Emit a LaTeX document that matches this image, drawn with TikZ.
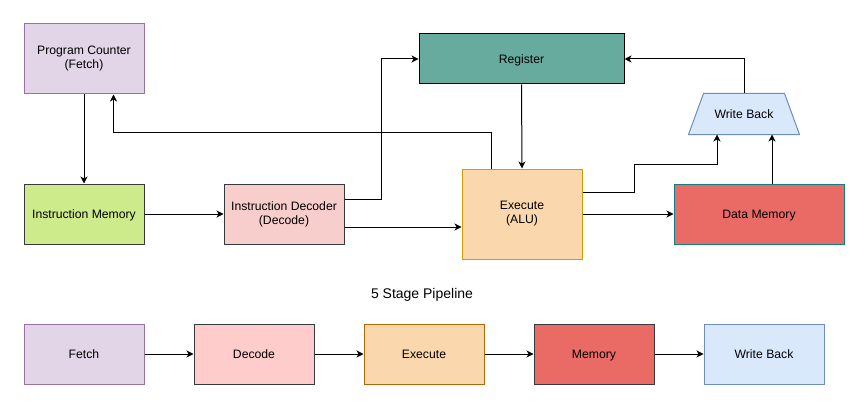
\documentclass[tikz,border=0pt]{standalone}
\usepackage{fontspec}
\setmainfont{Liberation Sans}
\usetikzlibrary{arrows.meta,calc,backgrounds}
\definecolor{pcfill}{HTML}{E1D5E7}\definecolor{pcline}{HTML}{9673A6}
\definecolor{imfill}{HTML}{CDEB8B}\definecolor{dkline}{HTML}{36393D}
\definecolor{idfill}{HTML}{F8CECC}\definecolor{decfill}{HTML}{FFCCCC}
\definecolor{regfill}{HTML}{67AB9F}
\definecolor{exfill}{HTML}{FAD7AC}\definecolor{exline}{HTML}{D79B00}\definecolor{exline2}{HTML}{B46504}
\definecolor{dmfill}{HTML}{EA6B66}\definecolor{dmline}{HTML}{0E8088}
\definecolor{wbfill}{HTML}{DAE8FC}\definecolor{wbline}{HTML}{6C8EBF}
\tikzset{
  box/.style={draw, line width=1pt, align=center, inner sep=0pt,
    font=\fontsize{12.2}{14}\selectfont},
  oneline/.style={text height=8.7pt, text depth=0pt},
  conn/.style={line width=1pt, -{Stealth[length=7pt,width=7pt,inset=2pt]}},
}
\begin{document}
\begin{tikzpicture}[x=1pt,y=-1pt]
\useasboundingbox (0,0) rectangle (861,401);
% top diagram
\node[box, fill=pcfill, draw=pcline, minimum width=120, minimum height=70] (pc) at (84,59) {Program Counter\\(Fetch)};
\node[box, oneline, fill=imfill, draw=dkline, minimum width=120, minimum height=60] (im) at (84,214) {Instruction Memory};
\node[box, fill=idfill, draw=dkline, minimum width=120, minimum height=60] (id) at (284,214) {Instruction Decoder\\(Decode)};
\node[box, oneline, fill=regfill, draw=black, minimum width=205, minimum height=50] (reg) at (521.5,59) {Register};
\node[box, fill=exfill, draw=exline, minimum width=120, minimum height=90] (ex) at (522,214) {Execute\\ (ALU)};
\node[box, oneline, fill=dmfill, draw=dmline, minimum width=170, minimum height=60] (dm) at (759,214) {Data Memory};
\node[box, oneline, draw=none, minimum width=110, minimum height=40] (wb) at (744,114) {Write Back};
\begin{pgfonlayer}{background}
\draw[line width=1pt, draw=wbline, fill=wbfill] (wb.south west) -- ($(wb.north west)+(15,0)$) -- ($(wb.north east)+(-15,0)$) -- (wb.south east) -- cycle;
\end{pgfonlayer}
% connectors
\draw[conn] (pc.south) -- (im.north);
\draw[conn] (im.east) -- (id.west);
\draw[conn] ($(id.east)+(0,-15)$) -| ($(reg.west)+(-37,0)$) -- (reg.west);
\draw[conn] ($(id.east)+(0,13)$) -- ($(ex.west)+(0,13)$);
\draw[conn] ($(ex.north west)+(30,0)$) |- ($(pc.south west)+(90,38)$) -- ($(pc.south west)+(90,0)$);
\draw[conn] (reg.south) -- (ex.north);
\draw[conn] ($(ex.east)+(0,-22)$) -- ($(ex.east)+(52,-22)$) |- ($(wb.south)+(-27,30)$) -- ($(wb.south)+(-27,0)$);
\draw[conn] (ex.east) -- (dm.west);
\draw[conn] ($(dm.north)+(13,0)$) -- ($(wb.south)+(28,0)$);
\draw[conn] (wb.north) |- (reg.east);
% pipeline
\node[font=\fontsize{14}{16}\selectfont] (title) at (422,295) {5 Stage Pipeline};
\node[box, oneline, fill=pcfill, draw=pcline, minimum width=120, minimum height=60] (f) at (84,354) {Fetch};
\node[box, oneline, fill=decfill, draw=dkline, minimum width=120, minimum height=60] (d) at (254,354) {Decode};
\node[box, oneline, fill=exfill, draw=exline2, minimum width=120, minimum height=60] (e) at (424,354) {Execute};
\node[box, oneline, fill=dmfill, draw=dkline, minimum width=120, minimum height=60] (m) at (594,354) {Memory};
\node[box, oneline, fill=wbfill, draw=wbline, minimum width=120, minimum height=60] (w) at (764,354) {Write Back};
\draw[conn] (f.east) -- (d.west);
\draw[conn] (d.east) -- (e.west);
\draw[conn] (e.east) -- (m.west);
\draw[conn] (m.east) -- (w.west);
\end{tikzpicture}
\end{document}
